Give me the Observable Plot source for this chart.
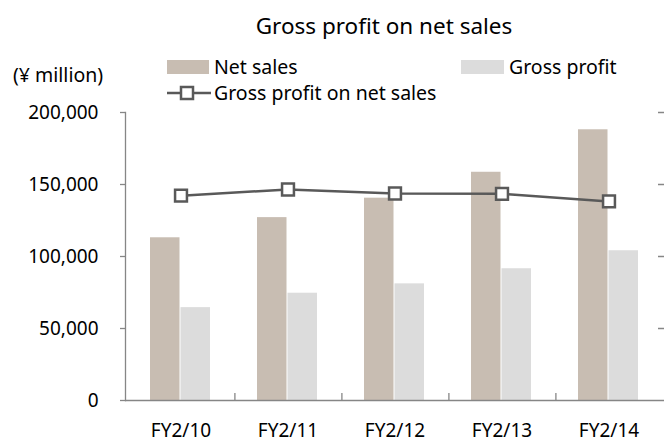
<!DOCTYPE html>
<html>
<head>
<meta charset="utf-8">
<script src="https://cdn.jsdelivr.net/npm/d3@7"></script>
<script src="https://cdn.jsdelivr.net/npm/@observablehq/plot@0.6"></script>
<style>
  html, body { margin: 0; padding: 0; background: #fff; }
  #wrap { position: relative; width: 664px; height: 442px; font-family: "Noto Sans", sans-serif; color: #000; overflow: hidden; }
  #wrap svg { position: absolute; left: 0; top: 0; }
  .lbl { position: absolute; white-space: nowrap; font-size: 19.5px; line-height: 1; }
  .sw { position: absolute; }
</style>
</head>
<body>
<div id="wrap">
  <div id="chart"></div>
  <div class="lbl" style="left:104px;width:560px;text-align:center;top:15px;font-size:22.5px;">Gross profit on net sales</div>
  <div class="lbl" style="left:13px;top:65px;font-size:19.5px;">(¥ million)</div>
  <div class="sw" style="left:167px;top:60px;width:42px;height:14px;background:#c8bdb2;"></div>
  <div class="lbl" style="left:214px;top:57px;">Net sales</div>
  <div class="sw" style="left:461px;top:60px;width:43px;height:14px;background:#dcdcdc;"></div>
  <div class="lbl" style="left:509px;top:57px;">Gross profit</div>
  <svg class="sw" style="left:165px;top:84px;" width="48" height="18">
    <line x1="2" y1="9" x2="46" y2="9" stroke="#595959" stroke-width="2.5"/>
    <rect x="16" y="3" width="12" height="12" fill="#fff" stroke="#595959" stroke-width="2.5"/>
  </svg>
  <div class="lbl" style="left:214px;top:83px;">Gross profit on net sales</div>
</div>
<script>
const years = ["FY2/10", "FY2/11", "FY2/12", "FY2/13", "FY2/14"];
const netSales = [113000, 127000, 140500, 158500, 188000];
const grossProfit = [64500, 74500, 81000, 91500, 104000];
const grossMarginPct = [56.9, 58.6, 57.5, 57.4, 55.3]; // right axis 0–80%
const yTicks = [0, 50000, 100000, 150000, 200000];

const leftMax = 200000, rightMax = 80; // right axis scale maps 80% to 200,000
const rows = years.map((y, i) => ({
  year: y, net: netSales[i], gross: grossProfit[i],
  marginScaled: grossMarginPct[i] / rightMax * leftMax
}));

const W = 664, H = 442, mL = 125, mR = 0;
const halfBand = (W - mL - mR) / years.length / 2;

const axisColor = "#868686";
const chart = Plot.plot({
  width: W, height: H,
  marginTop: 112, marginBottom: 42, marginLeft: mL, marginRight: mR,
  style: { fontFamily: "'Noto Sans', sans-serif", fontSize: "19px", color: "#000", background: "transparent" },
  x: { domain: years, padding: 0, label: null },
  y: { domain: [0, leftMax], label: null },
  marks: [
    Plot.barY(rows, { x: "year", y: "net", fill: "#c8bdb2", insetLeft: 23, insetRight: 54.5 }),
    Plot.barY(rows, { x: "year", y: "gross", fill: "#dcdcdc", insetLeft: 53.5, insetRight: 24 }),
    Plot.frame({ anchor: "left", stroke: axisColor, strokeWidth: 1.3 }),
    Plot.ruleY([0], { stroke: axisColor, strokeWidth: 1.5 }),
    Plot.axisY({ ticks: yTicks, tickSize: 5, tickPadding: 22, stroke: axisColor, strokeWidth: 1.3,
                 tickFormat: d => d3.format(",")(d), fill: "#000", label: null }),
    Plot.axisY({ anchor: "right", ticks: yTicks.slice(1), tickSize: -7, tickFormat: () => "", stroke: axisColor, strokeWidth: 1.5, label: null }),
    Plot.axisX({ ticks: years.slice(0, 4), tickSize: -7, dx: halfBand, tickFormat: () => "", stroke: axisColor, strokeWidth: 1.3, label: null }),
    Plot.axisX({ tickSize: 0, tickPadding: 23, fill: "#000", label: null }),
    Plot.line(rows, { x: "year", y: "marginScaled", stroke: "#595959", strokeWidth: 2.5 }),
    Plot.dot(rows, { x: "year", y: "marginScaled", symbol: "square", r: 6.7, fill: "#fff", stroke: "#595959", strokeWidth: 2.5 })
  ]
});
document.getElementById("chart").appendChild(chart);
</script>
</body>
</html>
